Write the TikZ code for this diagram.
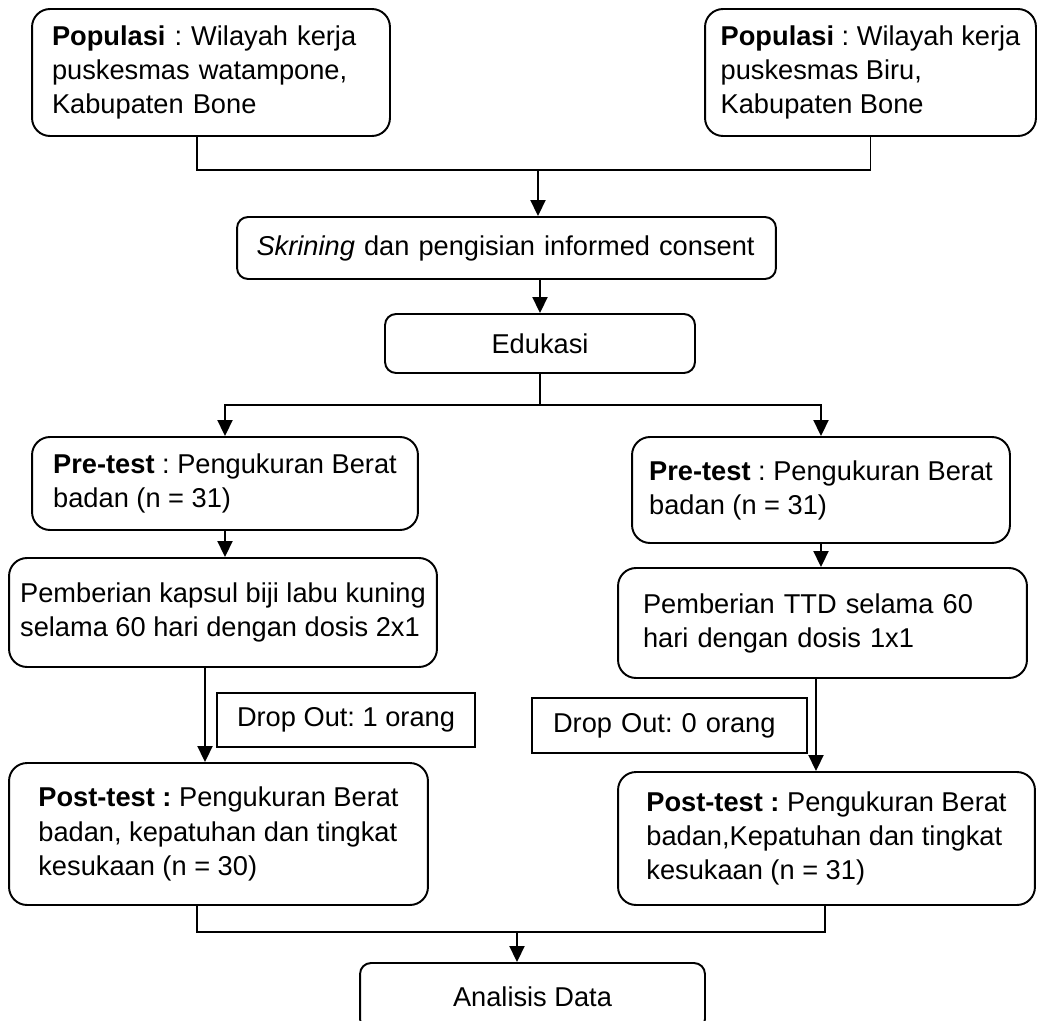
\documentclass[tikz,border=0pt]{standalone}
\usepackage{fontspec}
\setmainfont{Liberation Sans}
\usetikzlibrary{arrows.meta}
\frenchspacing

\begin{document}
\begin{tikzpicture}[x=0.02cm, y=-0.02cm, line width=1.1pt,
    every node/.style={font=\fontsize{15.5}{19.4}\selectfont, inner sep=0pt},
    stage/.style={draw, rounded corners=0.36cm, align=left},
    smallstage/.style={draw, rounded corners=0.22cm, align=left},
    dropbox/.style={draw, align=left},
    arr/.style={-{Triangle[length=0.32cm, width=0.3cm]}}]
    \useasboundingbox (0,0) rectangle (1039,1021);
    \clip (0,0) rectangle (1039,1021);

    \node[stage, minimum width=7.16cm, minimum height=2.54cm, text width=6.36cm] (popA) at (211,72.5)
        {\textbf{Populasi} : Wilayah kerja\\puskesmas watampone,\\Kabupaten Bone};
    \node[stage, minimum width=6.62cm, minimum height=2.54cm] (popB) at (870.5,72.5)
        {\textbf{Populasi} : Wilayah kerja\\puskesmas Biru,\\Kabupaten Bone};
    \node[smallstage, minimum width=10.78cm, minimum height=1.24cm, text width=10cm] (skr) at (506.5,248)
        {\textit{Skrining} dan pengisian informed consent};
    \node[smallstage, minimum width=6.2cm, minimum height=1.18cm] (edu) at (540,343.5) {Edukasi};

    \node[stage, minimum width=7.72cm, minimum height=1.86cm] (preA) at (225,483.5)
        {\textbf{Pre-test} : Pengukuran Berat\\badan (n = 31)};
    \node[stage, minimum width=7.56cm, minimum height=2.12cm] (preB) at (821,490)
        {\textbf{Pre-test} : Pengukuran Berat\\badan (n = 31)};
    \node[stage, minimum width=8.56cm, minimum height=2.18cm] (pembA) at (223,612.5)
        {Pemberian kapsul biji labu kuning\\selama 60 hari dengan dosis 2x1};
    \node[stage, minimum width=8.18cm, minimum height=2.2cm, text width=7.18cm] (pembB) at (822.5,623)
        {Pemberian TTD selama 60\\hari dengan dosis 1x1};

    \node[dropbox, minimum width=5.16cm, minimum height=1.08cm] (dropA) at (346,720) {Drop Out: 1 orang};
    \node[dropbox, minimum width=5.5cm, minimum height=1.1cm, text width=4.66cm] (dropB) at (669.5,725.5) {Drop Out: 0 orang};

    \node[stage, minimum width=8.38cm, minimum height=2.84cm] (postA) at (218.5,834)
        {\textbf{Post-test :} Pengukuran Berat\\badan, kepatuhan dan tingkat\\kesukaan (n = 30)};
    \node[stage, minimum width=8.34cm, minimum height=2.66cm] (postB) at (826.5,838.5)
        {\textbf{Post-test :} Pengukuran Berat\\badan,Kepatuhan dan tingkat\\kesukaan (n = 31)};
    \node[smallstage, minimum width=6.9cm, minimum height=1.34cm] (ana) at (532.5,996.5) {Analisis Data};

    \coordinate (jtop) at (538,170);
    \coordinate (jmid) at (540,405);
    \coordinate (jbot) at (517,932);
    \coordinate (stemL) at (197,0);
    \coordinate (stemR) at (825,0);
    \coordinate (lineA) at (205,0);
    \coordinate (lineB) at (816,0);

    \draw (popA.south -| stemL) |- (jtop) -| (popB.south);
    \draw[arr] (jtop) -- (jtop |- skr.north);
    \draw[arr] (skr.south -| edu.north) -- (edu.north);
    \draw (edu.south) -- (jmid);
    \draw[arr] (jmid) -| (preA.north);
    \draw[arr] (jmid) -| (preB.north);
    \draw[arr] (preA.south) -- (preA.south |- pembA.north);
    \draw[arr] (preB.south) -- (preB.south |- pembB.north);
    \draw[arr] (pembA.south -| lineA) -- (postA.north -| lineA);
    \draw[arr] (pembB.south -| lineB) -- (postB.north -| lineB);
    \draw (postA.south -| stemL) |- (jbot) -| (postB.south -| stemR);
    \draw[arr] (jbot) -- (jbot |- ana.north);
\end{tikzpicture}
\end{document}
